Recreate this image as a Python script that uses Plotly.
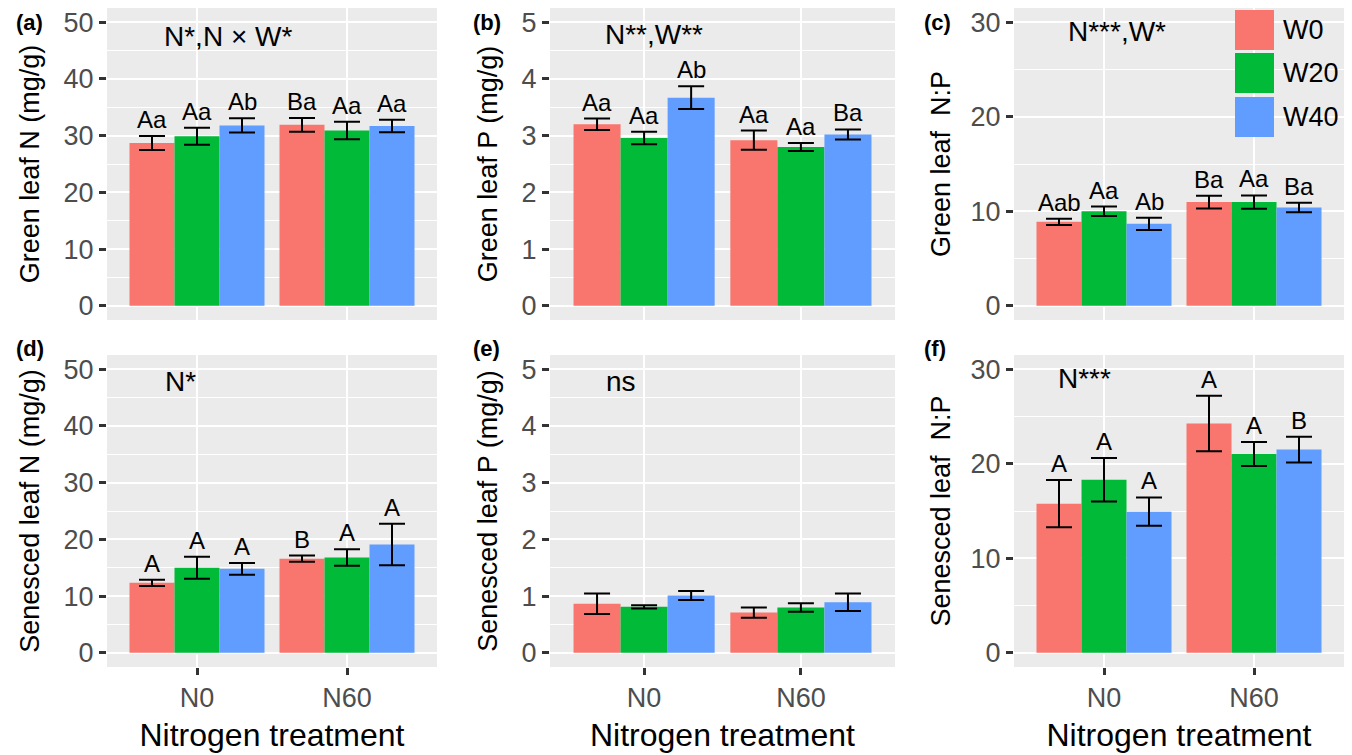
import plotly.graph_objects as go
from plotly.subplots import make_subplots

# ---------------- data ----------------
groups = ["N0", "N60"]
treatments = ["W0", "W20", "W40"]
colors = ["#F8766D", "#00BA38", "#619CFF"]

green_N_mean = {"W0": [28.7, 31.9], "W20": [29.9, 30.9], "W40": [31.8, 31.7]}
green_N_se = {"W0": [1.25, 1.2], "W20": [1.5, 1.55], "W40": [1.25, 1.1]}
green_N_let = {"W0": ["Aa", "Ba"], "W20": ["Aa", "Aa"], "W40": ["Ab", "Aa"]}

green_P_mean = {"W0": [3.20, 2.92], "W20": [2.96, 2.80], "W40": [3.67, 3.02]}
green_P_se = {"W0": [0.10, 0.17], "W20": [0.11, 0.07], "W40": [0.20, 0.09]}
green_P_let = {"W0": ["Aa", "Aa"], "W20": ["Aa", "Aa"], "W40": ["Ab", "Ba"]}

green_NP_mean = {"W0": [8.88, 10.97], "W20": [10.0, 10.97], "W40": [8.67, 10.4]}
green_NP_se = {"W0": [0.32, 0.67], "W20": [0.5, 0.7], "W40": [0.64, 0.5]}
green_NP_let = {"W0": ["Aab", "Ba"], "W20": ["Aa", "Aa"], "W40": ["Ab", "Ba"]}

sen_N_mean = {"W0": [12.35, 16.6], "W20": [15.0, 16.8], "W40": [14.8, 19.1]}
sen_N_se = {"W0": [0.55, 0.55], "W20": [1.95, 1.45], "W40": [1.05, 3.65]}
sen_N_let = {"W0": ["A", "B"], "W20": ["A", "A"], "W40": ["A", "A"]}

sen_P_mean = {"W0": [0.865, 0.71], "W20": [0.81, 0.80], "W40": [1.01, 0.89]}
sen_P_se = {"W0": [0.18, 0.09], "W20": [0.03, 0.075], "W40": [0.08, 0.155]}
sen_P_let = None

sen_NP_mean = {"W0": [15.77, 24.25], "W20": [18.3, 21.03], "W40": [14.93, 21.5]}
sen_NP_se = {"W0": [2.5, 2.93], "W20": [2.3, 1.28], "W40": [1.5, 1.36]}
sen_NP_let = {"W0": ["A", "A"], "W20": ["A", "A"], "W40": ["A", "B"]}

panel_tags = ["(a)", "(b)", "(c)", "(d)", "(e)", "(f)"]
stat_texts = ["N*,N × W*", "N**,W**", "N***,W*", "N*", "ns", "N***"]
y_titles = ["Green leaf N (mg/g)", "Green leaf P (mg/g)", "Green leaf\u00a0 N:P",
            "Senesced leaf N (mg/g)", "Senesced leaf P (mg/g)", "Senesced leaf\u00a0 N:P"]
y_ticks = [[0, 10, 20, 30, 40, 50], [0, 1, 2, 3, 4, 5], [0, 10, 20, 30],
           [0, 10, 20, 30, 40, 50], [0, 1, 2, 3, 4, 5], [0, 10, 20, 30]]
x_title = "Nitrogen treatment"

panels = [
    (green_N_mean, green_N_se, green_N_let),
    (green_P_mean, green_P_se, green_P_let),
    (green_NP_mean, green_NP_se, green_NP_let),
    (sen_N_mean, sen_N_se, sen_N_let),
    (sen_P_mean, sen_P_se, sen_P_let),
    (sen_NP_mean, sen_NP_se, sen_NP_let),
]

# ---------------- layout helpers ----------------
W, H = 1352, 755
FONT = "Liberation Sans, Arial, Helvetica, sans-serif"
col_px = [(107, 437), (550, 895), (1014, 1344)]
row_px = [(8, 320), (355, 667)]
y_standoff = [16, 16, 12, 16, 16, 12]
bar_w = 0.3

fig = make_subplots(rows=2, cols=3)

for p, (mean, se, let) in enumerate(panels):
    r, c = p // 3 + 1, p % 3 + 1
    for j, t in enumerate(treatments):
        xs = [i + (j - 1) * bar_w for i in range(len(groups))]
        fig.add_trace(go.Bar(
            x=xs, y=mean[t], width=bar_w, name=t,
            marker=dict(color=colors[j], line=dict(width=0)),
            error_y=dict(type="data", array=se[t], visible=True,
                         color="black", thickness=2, width=13),
            showlegend=False, hoverinfo="skip"), row=r, col=c)
        if let is not None:
            ax = "" if p == 0 else str(p + 1)
            for i in range(len(groups)):
                fig.add_annotation(
                    x=xs[i], y=mean[t][i] + se[t][i], xref="x" + ax, yref="y" + ax,
                    text=let[t][i], showarrow=False, yanchor="bottom",
                    yshift=1, font=dict(family=FONT, size=24, color="black"))

for p in range(6):
    r, c = p // 3, p % 3
    ax = "" if p == 0 else str(p + 1)
    x0, x1 = col_px[c]
    y0, y1 = row_px[r]
    top = max(y_ticks[p])
    pad = top * 0.05
    fig.layout["xaxis" + ax].update(
        domain=[x0 / W, x1 / W], range=[-0.6, 1.6],
        tickvals=list(range(len(groups))), ticktext=groups,
        showgrid=True, gridcolor="white", gridwidth=2.2, zeroline=False,
        showline=False,
        ticks="outside" if r == 1 else "", ticklen=7, tickwidth=2.5, tickcolor="#333333",
        showticklabels=(r == 1),
        tickfont=dict(family=FONT, size=27, color="#4D4D4D"),
        title=dict(text=x_title if r == 1 else "", standoff=11,
                   font=dict(family=FONT, size=32, color="black")))
    fig.layout["yaxis" + ax].update(
        domain=[1 - y1 / H, 1 - y0 / H], range=[-pad, top + pad],
        tickvals=y_ticks[p], showgrid=True, gridcolor="white", gridwidth=2.2,
        zeroline=False, showline=False,
        minor=dict(dtick=(y_ticks[p][1] - y_ticks[p][0]) / 2, tick0=0, showgrid=True,
                   gridcolor="white", gridwidth=1),
        ticks="outside", ticklen=7, tickwidth=2.5, tickcolor="#333333",
        tickfont=dict(family=FONT, size=27, color="#4D4D4D"),
        title=dict(text=y_titles[p], standoff=y_standoff[p],
                   font=dict(family=FONT, size=27, color="black")))

# stat annotations (left edge x, baseline y in px)
stat_pos = [(162, 47), (603, 45), (1066, 42), (163, 392), (604, 392), (1056, 389)]
for p in range(6):
    px, py = stat_pos[p]
    fig.add_annotation(x=px / W, y=1 - (py + 7) / H, xref="paper", yref="paper",
                       text=stat_texts[p], showarrow=False, xanchor="left", yanchor="bottom",
                       font=dict(family=FONT, size=28, color="black"))

# panel tags
tag_pos = [(14, 22), (471, 22), (922, 22), (14, 348), (471, 348), (922, 348)]
for p in range(6):
    px, py = tag_pos[p]
    fig.add_annotation(x=px / W, y=1 - py / H, xref="paper", yref="paper",
                       text="<b>" + panel_tags[p] + "</b>", showarrow=False,
                       xanchor="left", yanchor="middle",
                       font=dict(family=FONT, size=22, color="black"))

# legend (drawn manually with large keys)
key_x = (1235, 1274)
key_y = [(10, 50), (53, 93), (97, 137)]
for j, t in enumerate(treatments):
    ya, yb = key_y[j]
    fig.add_shape(type="rect", xref="paper", yref="paper",
                  x0=key_x[0] / W, x1=key_x[1] / W, y0=1 - yb / H, y1=1 - ya / H,
                  fillcolor=colors[j], line=dict(width=0), layer="above")
    fig.add_annotation(x=1281 / W, y=1 - (ya + yb) / 2 / H, xref="paper", yref="paper",
                       text=t, showarrow=False, xanchor="left", yanchor="middle",
                       font=dict(family=FONT, size=27, color="black"))

fig.update_layout(
    width=W, height=H, margin=dict(l=0, r=0, t=0, b=0),
    paper_bgcolor="white", plot_bgcolor="#EBEBEB",
    barmode="overlay", showlegend=False,
    font=dict(family=FONT),
)

fig.write_html("out.html")
